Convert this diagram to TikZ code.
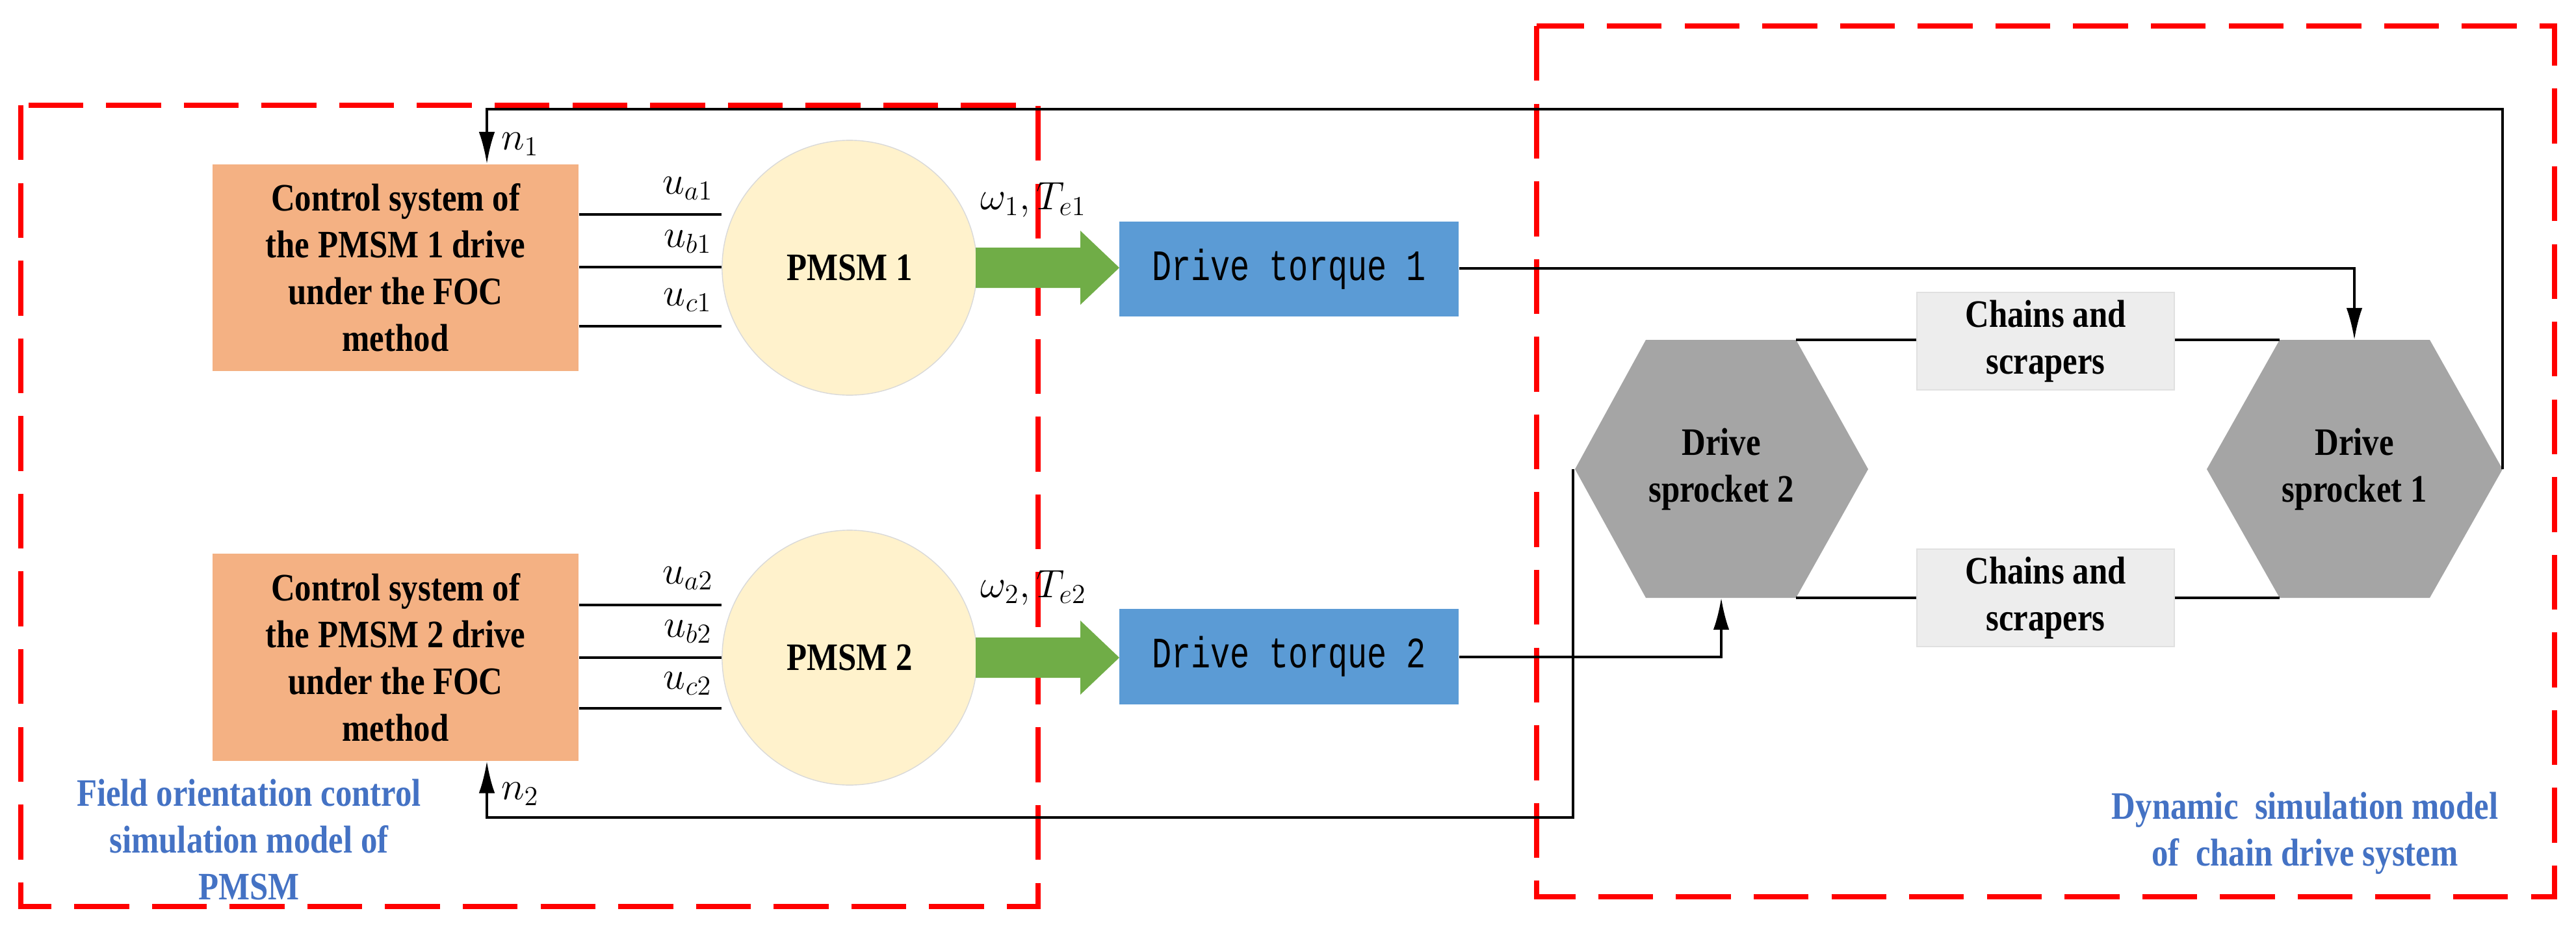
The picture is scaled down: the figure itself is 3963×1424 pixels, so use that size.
\documentclass[tikz,border=0pt]{standalone}
\usepackage{fontspec}
\setmainfont{Liberation Serif}[FakeStretch=0.85]
\newfontfamily\monof{Liberation Mono}[FakeStretch=0.75]
\usetikzlibrary{arrows.meta}
\definecolor{orangeF}{HTML}{F4B183}
\definecolor{motorF}{HTML}{FFF2CC}
\definecolor{greenF}{HTML}{70AD47}
\definecolor{blueF}{HTML}{5B9BD5}
\definecolor{greyF}{HTML}{A5A5A5}
\definecolor{chainF}{HTML}{EDEDED}
\definecolor{labelB}{HTML}{4472C4}
\begin{document}
\begin{tikzpicture}[x=0.01cm,y=-0.01cm,
  ctrl/.style={rectangle,fill=orangeF,minimum width=563\pgflinewidth,inner sep=0pt,
     minimum width=5.63cm,minimum height=3.18cm,align=center,
     font=\fontsize{17}{20.5}\selectfont\bfseries},
  motor/.style={circle,fill=motorF,draw=black!15,minimum size=3.92cm,inner sep=0pt,
     font=\fontsize{17}{20.5}\selectfont\bfseries},
  torque/.style={rectangle,fill=blueF,minimum width=5.22cm,minimum height=1.46cm,
     font=\fontsize{19}{22}\monof},
  chain/.style={rectangle,fill=chainF,draw=black!12,minimum width=3.96cm,minimum height=1.48cm,
     align=center,font=\fontsize{17}{20.5}\selectfont\bfseries},
  hexfill/.style={fill=greyF},
  hextext/.style={align=center,font=\fontsize{17}{20.5}\selectfont\bfseries},
  wire/.style={line width=1.2pt},
  conn/.style={line width=1.1pt,-{Latex[length=14pt,width=7pt]}},
  bigarrow/.style={fill=greenF},
  region/.style={red,line width=2.3pt,dash pattern=on 24pt off 10pt},
  note/.style={text=labelB,align=center,font=\fontsize{17}{20.5}\selectfont\bfseries},
  lab/.style={font=\fontsize{17}{20}\selectfont}
]
\useasboundingbox (0,0) rectangle (3963,1424);
% regions
\draw[region] (32,162) rectangle (1597,1395);
\draw[region] (2364,40) rectangle (3930,1380);
% control boxes
\node[ctrl] (c1) at (608.5,412) {Control system of\\the PMSM 1 drive\\under the FOC\\method};
\node[ctrl] (c2) at (608.5,1011.5) {Control system of\\the PMSM 2 drive\\under the FOC\\method};
% motors
\node[motor] (m1) at (1307,412) {PMSM 1};
\node[motor] (m2) at (1307,1012) {PMSM 2};
% phase wires
\foreach \y/\p in {330/a,411/b,502/c}{
  \draw[wire] (c1.east |- 0,\y) -- (m1.west |- 0,\y) ;
}
\foreach \y/\p in {931/a,1012/b,1090/c}{
  \draw[wire] (c2.east |- 0,\y) -- (m2.west |- 0,\y);
}
\node[lab] (ua1) at (1058,290) {$u_{a1}$};
\node[lab] (ub1) at (1058,372) {$u_{b1}$};
\node[lab] (uc1) at (1058,462) {$u_{c1}$};
\node[lab] (ua2) at (1058,890) {$u_{a2}$};
\node[lab] (ub2) at (1058,972) {$u_{b2}$};
\node[lab] (uc2) at (1058,1052) {$u_{c2}$};
% torque boxes
\node[torque] (t1) at (1983,414) {Drive torque 1};
\node[torque] (t2) at (1983,1010.5) {Drive torque 2};
% green arrows
\foreach \yc in {412,1012}{
  \fill[bigarrow] (1501,\yc-31) -- (1662,\yc-31) -- (1662,\yc-57) -- (1722,\yc)
     -- (1662,\yc+57) -- (1662,\yc+31) -- (1501,\yc+31) -- cycle;
}
\node[lab] (w1) at (1590,308) {$\omega_1,T_{e1}$};
\node[lab] (w2) at (1590,905) {$\omega_2,T_{e2}$};
% sprockets
\fill[hexfill] (2532,523) -- (2763,523) -- (2874,722) -- (2763,920) -- (2532,920) -- (2423,722) -- cycle;
\fill[hexfill] (3507,523) -- (3738,523) -- (3850,722) -- (3738,920) -- (3507,920) -- (3395,722) -- cycle;
\node[hextext] (s2) at (2648,722) {Drive\\sprocket 2};
\node[hextext] (s1) at (3622,722) {Drive\\sprocket 1};
\coordinate (s2tr) at (2763,523);
\coordinate (s2br) at (2763,920);
\coordinate (s2b) at (2648,920);
\coordinate (s2l) at (2420,722);
\coordinate (s1tl) at (3507,523);
\coordinate (s1bl) at (3507,920);
\coordinate (s1t) at (3622,523);
\coordinate (s1r) at (3850,722);
% chains
\node[chain] (ch1) at (3147,525) {Chains and\\scrapers};
\node[chain] (ch2) at (3147,920) {Chains and\\scrapers};
\draw[wire] (s2tr) -- (ch1.west |- s2tr);
\draw[wire] (ch1.east |- s1tl) -- (s1tl);
\draw[wire] (s2br) -- (ch2.west |- s2br);
\draw[wire] (ch2.east |- s1bl) -- (s1bl);
% torque connectors
\draw[conn] (t1.east |- 0,413) -| (s1t);
\draw[conn] (t2.east |- 0,1011) -| (s2b);
% feedback
\coordinate (fb1) at (749,168);
\coordinate (fb2) at (749,1258);
\draw[conn] (s1r) |- (fb1) -- (c1.north -| fb1);
\draw[conn] (s2l) |- (fb2) -- (c2.south -| fb2);
\node[lab] (n1) at (800,222) {$n_1$};
\node[lab] (n2) at (800,1222) {$n_2$};
% notes
\node[note] (nl) at (383,1292) {Field orientation control\\simulation model of\\PMSM};
\node[note] (nr) at (3546,1282) {Dynamic\ \ simulation model\\of\ \ chain drive system};
\end{tikzpicture}
\end{document}
